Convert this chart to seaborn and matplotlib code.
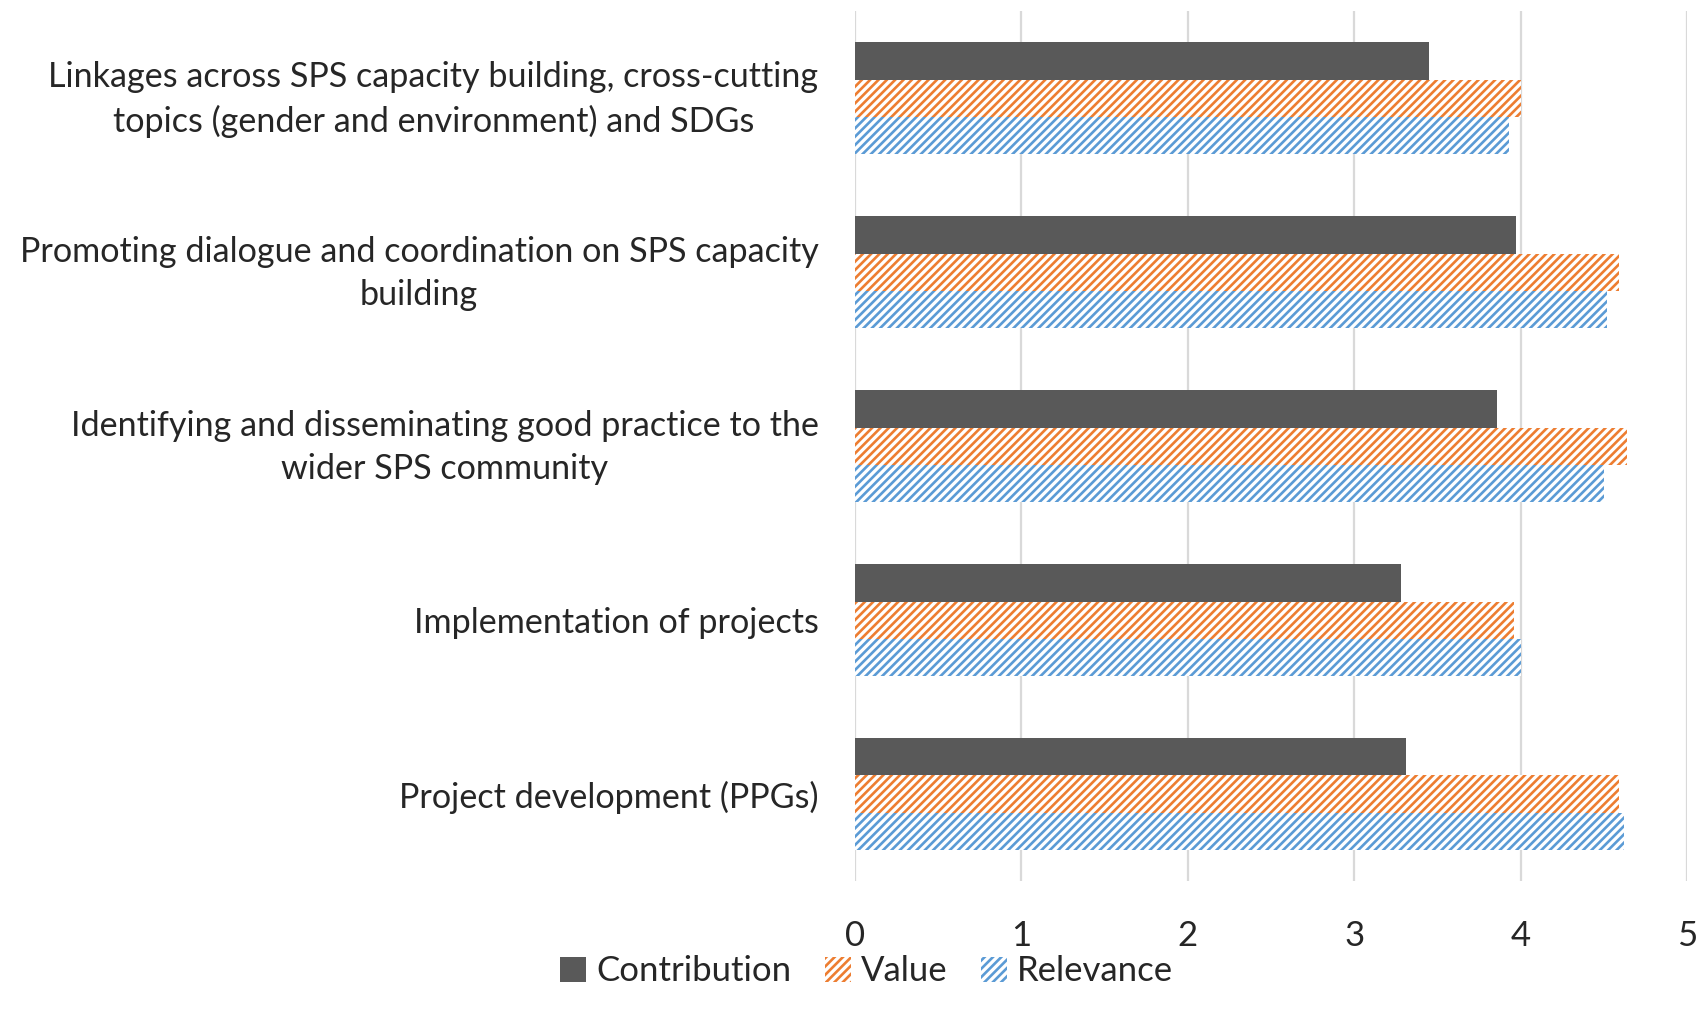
import pandas as pd
import matplotlib
matplotlib.use("Agg")
import matplotlib.pyplot as plt
import matplotlib.transforms as mtrans
import seaborn as sns
from matplotlib.patches import Patch

# data
categories = [
    "Linkages across SPS capacity building, cross-cutting\ntopics (gender and environment) and SDGs",
    "Promoting dialogue and coordination on SPS capacity\nbuilding",
    "Identifying and disseminating good practice to the\nwider SPS community",
    "Implementation of projects",
    "Project development (PPGs)",
]
contribution = [3.45, 3.97, 3.86, 3.28, 3.31]
value = [4.00, 4.59, 4.64, 3.96, 4.59]
relevance = [3.93, 4.52, 4.50, 4.00, 4.62]
series = ["Contribution", "Value", "Relevance"]
colors = ["#595959", "#ED7D31", "#5B9BD5"]
xticks = [0, 1, 2, 3, 4, 5]

df = pd.DataFrame({
    "Category": categories * 3,
    "Score": contribution + value + relevance,
    "Series": [s for s in series for _ in categories],
})

sns.set_style("white")
plt.rcParams["font.family"] = ["Lato", "DejaVu Sans"]
plt.rcParams["hatch.linewidth"] = 1.9

fig = plt.figure(figsize=(17.06, 10.15), dpi=100)
ax = fig.add_axes([0.501, 0.132, 0.488, 0.857])

sns.barplot(data=df, x="Score", y="Category", hue="Series", hue_order=series,
            order=categories, orient="h", palette=colors, width=0.64,
            saturation=1, ax=ax, legend=False)

# hatching for Value / Relevance
for bars, s, c in zip(ax.containers, series, colors):
    for b in bars:
        b.set_linewidth(0)
        b.set_edgecolor(c)
        if s == "Contribution":
            b.set_facecolor(c)
        else:
            b.set_facecolor("white")
            b.set_hatch("////")

ax.set_xlim(0, 5)
ax.set_xticks(xticks)
ax.set_ylim(4.5, -0.5)
ax.grid(axis="x", color="#D9D9D9", linewidth=1.6)
ax.set_axisbelow(True)
for sp in ax.spines.values():
    sp.set_visible(False)
ax.set_xlabel("")
ax.set_ylabel("")
ax.tick_params(axis="y", length=0, pad=26, labelsize=24.6)
ax.tick_params(axis="x", length=0, pad=28, labelsize=25)
shift = mtrans.ScaledTranslation(0, 0.075, fig.dpi_scale_trans)
for lbl in ax.get_yticklabels():
    lbl.set_multialignment("center")
    lbl.set_linespacing(1.45)
    if "\n" in lbl.get_text():
        lbl.set_transform(lbl.get_transform() + shift)

handles = []
for s, c in zip(series, colors):
    if s == "Contribution":
        handles.append(Patch(facecolor=c, edgecolor=c, linewidth=0, label=s))
    else:
        handles.append(Patch(facecolor="white", edgecolor=c, hatch="////", linewidth=0, label=s))
fig.legend(handles=handles, loc="center", bbox_to_anchor=(0.508, 0.043), ncol=3,
           frameon=False, fontsize=25, handlelength=0.75, handleheight=0.75,
           handletextpad=0.3, columnspacing=0.95)

fig.savefig("out.png", dpi=100)
